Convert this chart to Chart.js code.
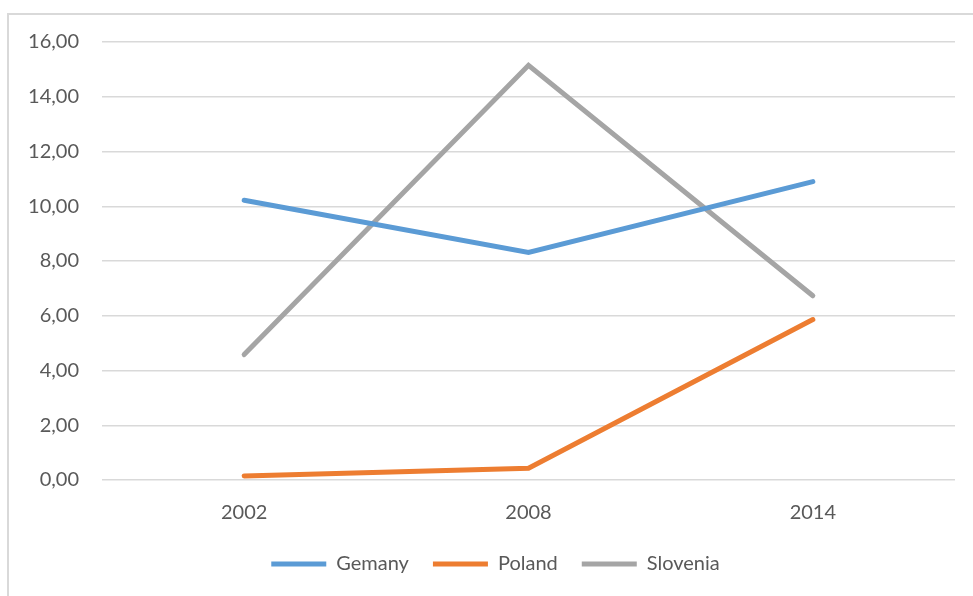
<!DOCTYPE html>
<html>
<head>
<meta charset="utf-8">
<script src="https://cdn.jsdelivr.net/npm/chart.js@4"></script>
<style>
  html, body { margin: 0; padding: 0; background: #fff; overflow: hidden; }
  #wrap { position: relative; width: 973px; height: 596px; }
  #frame { position: absolute; left: 7px; top: 13px; width: 1000px; height: 700px;
           border: 2px solid #d9d9d9; box-sizing: border-box; }
  canvas { position: absolute; left: 0; top: 0; }
</style>
</head>
<body>
<div id="wrap">
  <div id="frame"></div>
  <canvas id="lineChart" width="973" height="596"></canvas>
</div>
<script>
var years = ['2002', '2008', '2014'];
var germany = [10.22, 8.31, 10.9];
var poland = [0.15, 0.43, 5.86];
var slovenia = [4.58, 15.15, 6.73];

var yMin = 0;
var yMax = 16;
var yStep = 2;

var textColor = '#595959';
var gridColor = '#d9d9d9';

function series(label, data, color) {
    return {
        label: label,
        data: data,
        borderColor: color,
        backgroundColor: color,
        borderWidth: 5,
        borderCapStyle: 'round',
        borderJoinStyle: 'miter',
        pointRadius: 0,
        pointHoverRadius: 0,
        tension: 0,
        fill: false
    };
}

// nudge the legend so it is centred under the plot area, not the canvas
var legendShift = {
    id: 'legendShift',
    afterLayout: function(chart) {
        var lg = chart.legend;
        if (lg) {
            lg.left += 18;
            lg.right += 18;
        }
    }
};

var lineChart = new Chart(document.getElementById('lineChart'), {
    type: 'line',
    data: {
        labels: years,
        datasets: [
            series('Gemany', germany, '#5b9bd5'),
            series('Poland', poland, '#ed7d31'),
            series('Slovenia', slovenia, '#a5a5a5')
        ]
    },
    options: {
        responsive: false,
        animation: false,
        layout: {
            padding: { left: 0, right: 18, top: 42, bottom: 12 }
        },
        scales: {
            x: {
                offset: true,
                grid: { display: false, drawTicks: false },
                border: { display: false },
                ticks: {
                    color: textColor,
                    padding: 21,
                    font: { family: 'Lato', size: 20 }
                },
                afterFit: function(scale) { scale.height = 50; }
            },
            y: {
                min: yMin,
                max: yMax,
                grid: { color: gridColor, lineWidth: 1.5, drawTicks: false },
                border: { display: false },
                ticks: {
                    stepSize: yStep,
                    color: textColor,
                    padding: 23,
                    font: { family: 'Lato', size: 20 },
                    callback: function(v) { return v.toFixed(2).replace('.', ','); }
                },
                afterFit: function(scale) { scale.width = 102; }
            }
        },
        plugins: {
            tooltip: { enabled: false },
            legend: {
                position: 'bottom',
                labels: {
                    color: textColor,
                    boxWidth: 55,
                    boxHeight: 5,
                    padding: 24,
                    font: { family: 'Lato', size: 20 },
                    generateLabels: function(chart) {
                        var items = Chart.defaults.plugins.legend.labels.generateLabels(chart);
                        items.forEach(function(it) { it.lineWidth = 0; });
                        return items;
                    }
                }
            }
        }
    },
    plugins: [legendShift]
});
</script>
</body>
</html>
